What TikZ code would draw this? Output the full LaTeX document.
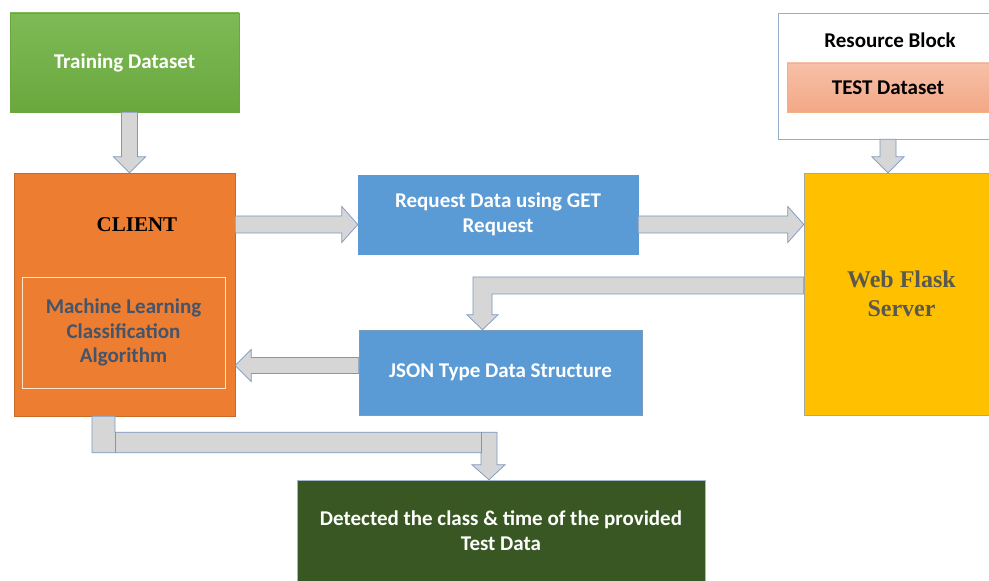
\documentclass[tikz,border=0pt]{standalone}
\usepackage{fontspec}
\setmainfont{Carlito}
\newfontfamily\timesfont{Liberation Serif}
\usetikzlibrary{calc}

\definecolor{trainTop}{RGB}{126,186,86}
\definecolor{trainBot}{RGB}{106,168,62}
\definecolor{clientOrange}{RGB}{237,125,49}
\definecolor{boxBlue}{RGB}{91,155,213}
\definecolor{blueLine}{RGB}{65,113,156}
\definecolor{serverYellow}{RGB}{255,192,0}
\definecolor{resultGreen}{RGB}{56,87,35}
\definecolor{testTop}{RGB}{247,192,168}
\definecolor{testBot}{RGB}{243,168,134}
\definecolor{arrowFill}{RGB}{214,214,214}
\definecolor{arrowLine}{RGB}{124,152,190}
\definecolor{mlText}{RGB}{68,84,106}
\definecolor{serverText}{RGB}{89,89,80}

\tikzset{
  box/.style={rectangle, inner sep=2pt, align=center, font=\bfseries\fontsize{21}{24.5}\selectfont},
  blockarrow/.style={fill=arrowFill, draw=arrowLine, line width=0.7pt, line join=miter},
}

% block arrows: #1 start node anchor, #2 tip
\newcommand{\varrow}[2]{\draw[blockarrow] ($(#2 |- #1)+(-8,0)$) -- ($(#2)+(-8,16)$) -- ++(-8,0) -- (#2) -- ++(16,16) -- ++(-8,0) -- ($(#2 |- #1)+(8,0)$) -- cycle;}
\newcommand{\rarrow}[2]{\draw[blockarrow] ($(#1 |- #2)+(0,8.5)$) -- ($(#2)+(-16,8.5)$) -- ++(0,9.5) -- (#2) -- ++(-16,-18) -- ++(0,9.5) -- ($(#1 |- #2)+(0,-8.5)$) -- cycle;}
\newcommand{\larrow}[2]{\draw[blockarrow] ($(#1 |- #2)+(0,8)$) -- ($(#2)+(16,8)$) -- ++(0,8) -- (#2) -- ++(16,-16) -- ++(0,8) -- ($(#1 |- #2)+(0,-8)$) -- cycle;}

\begin{document}
\begin{tikzpicture}[x=1pt, y=1pt]
	\useasboundingbox (0,0) rectangle (989,581);
	% boxes
	\node [box, minimum width=229, minimum height=99, top color=trainTop, bottom color=trainBot, draw=trainBot, text=white] (train) at (124.5,518.5) {Training Dataset};
	\node [box, minimum width=221, minimum height=243, fill=clientOrange, draw=clientOrange!85!black] (client) at (124.5,286.5) {};
	\node [font=\timesfont\bfseries\fontsize{21}{25}\selectfont] (clienttitle) at (137,356) {CLIENT};
	\node [box, minimum width=203, minimum height=111, draw=orange!20, line width=0.8pt, text=mlText] (ml) at (123.5,248.5) {Machine Learning\\Classification\\Algorithm};
	\node [box, minimum width=280, minimum height=79, fill=boxBlue, draw=boxBlue, text=white] (request) at (498,366.5) {Request Data using GET\\Request};
	\node [box, minimum width=283, minimum height=85, fill=boxBlue, draw=blueLine!70, text=white] (json) at (500.5,208.5) {JSON Type Data Structure};
	\node [box, minimum width=185, minimum height=242, fill=serverYellow, draw=gray!70, text=serverText, font=\timesfont\bfseries\fontsize{24}{29}\selectfont] (server) at (896.5,287) {\hspace*{10pt}Web Flask\\\hspace*{10pt}Server};
	\node [box, minimum width=211, minimum height=126, draw=arrowLine!80, fill=white] (resource) at (883.5,505) {};
	\node [box] (restitle) at (890,541) {Resource Block};
	\node [box, minimum width=202, minimum height=49, top color=testTop, bottom color=testBot, draw=clientOrange!60] (test) at (888,493.5) {TEST Dataset};
	\node [box, minimum width=408, minimum height=101, fill=resultGreen, draw=arrowLine!70, text=white] (detected) at (501,50.5) {Detected the class \& time of the provided\\Test Data};

	% arrows
	\coordinate (t2c) at ($(client.north)+(5,0)$);
	\varrow{train.south}{t2c}
	\coordinate (c2r) at ($(request.west)+(0,-10)$);
	\rarrow{client.east}{c2r}
	\coordinate (r2s) at (server.west |- c2r);
	\rarrow{request.east}{r2s}
	\coordinate (rb2s) at (server.north -| test.south);
	\varrow{resource.south}{rb2s}
	\coordinate (s2j) at ($(json.north)+(-18,0)$);
	\draw [blockarrow] ($(server.west)+(0,17)$) -| ($(s2j)+(-9.5,15)$) -- ++(-6,0) -- (s2j) -- ++(15.5,15) -- ++(-6,0) |- (server.west) -- cycle;
	\coordinate (j2c) at ($(client.east |- json.west)+(0,7)$);
	\larrow{json.west}{j2c}
	\coordinate (c2d) at ($(detected.north)+(-12,0)$);
	\draw [blockarrow] ($(client.south)+(-32.5,0)$) |- ($(c2d)+(-8,27)$) -- ++(0,-12) -- ++(-9,0) -- (c2d) -- ++(16,15) -- ++(-8,0) |- ($(client.south)+(-9.5,-16)$) -- ($(client.south)+(-9.5,0)$) -- cycle;
	\draw [arrowLine, line width=0.7pt] ($(client.south)+(-9.5,-16)$) -- ++(0,-21);
	\draw [arrowLine, line width=0.7pt] ($(c2d)+(-8,48)$) -- ++(0,-21);
\end{tikzpicture}
\end{document}
